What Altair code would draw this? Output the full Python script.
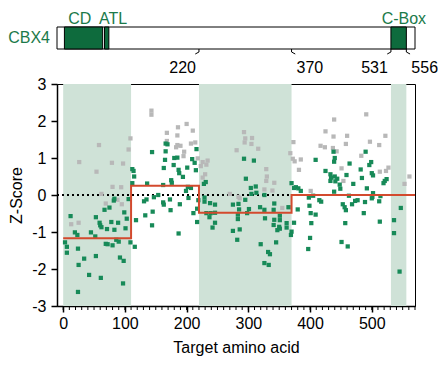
import altair as alt
import pandas as pd

# ---------------- data ----------------
green_x = [3, 6, 6, 12, 19, 23, 24, 25, 24, 34, 42, 45, 52, 53, 53, 59, 60, 62, 61, 67, 69, 72, 75, 78, 80,
           82, 83, 86, 90, 89, 92, 97, 98, 99, 101, 103, 106, 109, 116, 118, 71, 83,
           112, 114, 115, 112, 136, 131, 135, 133,
           144, 166, 169, 166, 180, 185, 165, 179, 209, 213, 163, 187, 188, 201, 215, 194, 175, 176, 216,
           202, 207, 162, 228, 231, 199, 147, 154, 173, 162, 163, 203, 219, 189, 174, 145, 229, 229, 238,
           246, 211, 217, 232, 239, 237, 246, 217, 144, 246, 242, 187, 275, 282, 275,
           293, 309, 296, 304, 312, 305, 313, 326, 295, 370, 377, 381, 374, 385, 398, 405, 415, 418, 284,
           285, 283, 283, 301, 319, 326, 342, 341, 298, 327, 342, 351, 351, 365, 341, 350, 347, 351, 362,
           362, 370, 369, 374, 380, 399, 401, 409, 402, 286, 400, 397, 345, 320, 332, 335, 326, 333, 409, 425,
           438, 440, 439, 490, 464, 499, 496, 482, 433, 434, 433, 440, 444, 441, 459, 448, 449, 484, 500,
           502, 470, 492, 519, 521, 524, 439, 502, 463, 500, 501, 477, 514, 473, 468, 489, 512, 453, 456,
           458, 487, 547, 457, 513, 536, 536, 451, 461, 545]
green_y = [-1.28, -1.40, -1.56, -0.57, -1.01, -1.08, -1.45, -1.89, -2.62, -1.72, -2.16, -1.01, -1.12, -0.60,
           -1.65, -0.75, -0.82, -0.87, -2.24, -0.40, -1.32, -1.33, -0.34, -0.73, -1.36, -0.15, -0.10, -1.21,
           -1.26, -0.75, -1.69, -2.39, -1.78, -0.47, -0.90, -0.64, -0.11, -1.28, -1.40, -0.68, -0.92, -0.94,
           0.70, 0.65, 0.50, 0.32, 0.31, -0.17, -0.12, -0.55,
           1.16, 1.39, 1.37, 1.18, 1.00, 1.01, 0.95, 0.81, 0.97, 0.87, 0.73, 0.68, 0.59, 0.74, 0.67, 0.49,
           0.40, 0.33, 1.24, 0.22, 0.19, 0.27, 0.30, 0.35, 0.11, -0.06, 0.00, -0.12, -0.20, -0.26, -0.08,
           -0.14, -0.25, -0.41, -0.45, -0.07, -0.18, -0.22, -0.26, -0.49, -0.37, -0.49, -0.49, -0.60, -0.48,
           -0.73, -0.82, -0.75, -0.88, -1.04, -0.97, -1.21, -0.26,
           0.98, 0.93, 0.44, 0.19, 0.23, 0.03, 0.06, 0.00, -0.13, 0.32, 0.21, 0.18, 0.19, 0.11, -0.07, -0.02,
           -0.14, -0.18, -0.24, -0.39, -0.53, -0.65, -0.38, -0.33, -0.40, -0.23, -0.40, -0.49, -0.63, -0.67,
           -0.56, -0.68, -0.33, -0.81, -0.86, -0.95, -0.91, -0.76, -0.88, -0.99, -1.08, -0.75, -0.39, -0.29,
           -0.49, -0.53, -0.76, -0.93, -1.16, -1.46, -1.28, -1.33, -1.54, -1.60, -1.84, -1.89, 0.95, 0.65,
           1.17, 1.00, 0.90, 1.17, 0.85, 0.89, 0.81, 0.69, 0.56, 0.47, 0.38, 0.50, 0.44, 0.37, 0.54, 0.28,
           0.17, 0.46, 0.59, 0.53, 0.30, 0.18, 0.32, 0.38, 0.43, 0.09, 0.05, -0.02, -0.09, -0.05, -0.14,
           -0.03, -0.16, -0.25, -0.19, -0.17, -0.25, -0.33, -0.41, -0.49, -0.35, -0.76, -0.72, -0.68, -1.03,
           -1.27, -1.39, -2.07]

gray_x = [58, 109, 106, 26, 79, 97, 54, 80, 94, 62, 69, 88, 95, 13, 25,
          143, 143, 200, 186, 168, 210, 185, 168, 207, 214, 185, 190, 183, 196, 195, 218, 226, 234, 232,
          223, 281, 230, 226, 270,
          293, 295, 294, 306, 305, 316, 373, 368, 372, 375, 385, 382, 329, 330, 329, 342, 326, 339, 284,
          286, 355, 366, 401, 425, 417, 424,
          491, 439, 438, 460, 522, 458, 497, 512, 437, 443, 483, 451, 454, 513, 523, 527, 561, 553]
gray_y = [1.35, 1.53, 1.23, 0.89, 0.87, 0.85, 0.63, 0.22, 0.21, 0.03, -0.23, -0.13, -0.25, -0.79, -0.75,
          2.28, 2.17, 1.92, 1.83, 1.68, 1.74, 1.61, 1.46, 1.39, 1.42, 1.35, 1.33, 1.29, 1.17, 1.05, 0.99,
          0.89, 0.93, 0.82, 0.78, 1.21, 0.56, 0.47, 0.03,
          1.70, 1.53, 1.42, 1.54, 1.38, 1.25, 1.43, 1.13, 0.98, 0.91, 0.96, 0.68, 0.70, 0.50, 0.38, 0.33,
          0.15, 0.12, -0.05, -0.09, -0.35, -0.33, 0.11, 1.72, 1.33, 1.29,
          2.18, 2.04, 1.58, 1.60, 1.60, 1.38, 1.44, 1.35, 1.27, 1.18, 1.06, 0.72, 0.38, 0.63, 0.65, 0.74,
          0.50, 0.30]

shade_start = [0, 220, 531]
shade_end = [110, 370, 556]

step_x = [0, 110, 220, 370, 570]
step_y = [-1.17, 0.25, -0.48, 0.0, 0.0]

domain_start = [2, 67, 531]
domain_end = [64, 74, 556]
domain_label = ["CD", "ATL", "C-Box"]
domain_label_x = [27, 81, 552]

bound_pos = [220, 370, 531, 556]
bound_dir = [-1, 1, -1, 1]

x_ticks = [0, 100, 200, 300, 400, 500]
y_ticks = [-3, -2, -1, 0, 1, 2, 3]
minor_ticks = list(range(0, 571, 10))

# ---------------- style ----------------
W, H = 358, 222
FONT = "Liberation Sans"
GREEN = "#178a58"
GRAY = "#b8b8b8"
SHADE = "#cfe2d7"
RED = "#d34a2e"
DARK = "#0e6b3d"
TEXTGREEN = "#1b7a4a"

xscale = alt.Scale(domain=[-10, 570], nice=False, zero=False)
yscale = alt.Scale(domain=[-3, 3], nice=False, zero=False)
xaxis = alt.Axis(values=x_ticks, title="Target amino acid", tickSize=6, labelPadding=3,
                 titlePadding=8, grid=False)
yaxis = alt.Axis(values=y_ticks, title="Z-Score", tickSize=6, labelPadding=5, titlePadding=7,
                 grid=False, labelExpr="'' + datum.value")


def X(f):
    return alt.X(f, type="quantitative", scale=xscale, axis=xaxis)


def Y(f):
    return alt.Y(f, type="quantitative", scale=yscale, axis=yaxis)


shade_df = pd.DataFrame({"s": shade_start, "e": shade_end})
shade = alt.Chart(shade_df).mark_rect(color=SHADE).encode(
    x=X("s"), x2="e", y=alt.value(0), y2=alt.value(H))

minor = alt.Chart(pd.DataFrame({"t": minor_ticks})).mark_rule(color="black", strokeWidth=1).encode(
    x=X("t"), y=alt.value(H), y2=alt.value(H + 4))

zero = alt.Chart(pd.DataFrame({"z": [0]})).mark_rule(
    color="black", strokeWidth=2, strokeDash=[2, 3]).encode(
    y=Y("z"), x=alt.value(0), x2=alt.value(W))

gray = alt.Chart(pd.DataFrame({"x": gray_x, "y": gray_y})).mark_square(
    color=GRAY, size=18, opacity=1).encode(x=X("x"), y=Y("y"))
green = alt.Chart(pd.DataFrame({"x": green_x, "y": green_y})).mark_square(
    color=GREEN, size=18, opacity=1).encode(x=X("x"), y=Y("y"))

step = alt.Chart(pd.DataFrame({"x": step_x, "y": step_y})).mark_line(
    color=RED, strokeWidth=2, interpolate="step-after").encode(x=X("x"), y=Y("y"))

# ---- protein diagram above the plot ----
BAR_TOP, BAR_BOT = -57, -35
bar = alt.Chart(pd.DataFrame({"k": [0]})).mark_rect(
    fill="white", stroke="black", strokeWidth=1).encode(
    x=alt.value(0), x2=alt.value(W), y=alt.value(BAR_TOP), y2=alt.value(BAR_BOT))

dom_df = pd.DataFrame({"s": domain_start, "e": domain_end})
doms = alt.Chart(dom_df).mark_rect(fill=DARK, stroke="black", strokeWidth=1).encode(
    x=X("s"), x2="e", y=alt.value(BAR_TOP), y2=alt.value(BAR_BOT))

dl_df = pd.DataFrame({"lx": domain_label_x, "name": domain_label})
dlabels = alt.Chart(dl_df).mark_text(
    color=TEXTGREEN, font=FONT, fontSize=16, align="center", baseline="alphabetic").encode(
    x=X("lx"), y=alt.value(BAR_TOP - 3.5), text="name:N")

name = alt.Chart(pd.DataFrame({"n": ["CBX4"]})).mark_text(
    color=TEXTGREEN, font=FONT, fontSize=16, align="right", baseline="middle").encode(
    x=alt.value(-7), y=alt.value((BAR_TOP + BAR_BOT) / 2), text="n:N")

b_df = pd.DataFrame({"p": bound_pos, "d": bound_dir})
b_df["h"] = b_df["p"] + 6 * b_df["d"]
b_df["lab"] = b_df["p"].astype(str)
hook_v = alt.Chart(b_df).mark_rule(color="black", strokeWidth=1).encode(
    x=X("p"), y=alt.value(BAR_BOT), y2=alt.value(BAR_BOT + 3))
hook_d = alt.Chart(b_df).mark_rule(color="black", strokeWidth=1).encode(
    x=X("p"), x2="h", y=alt.value(BAR_BOT + 3), y2=alt.value(BAR_BOT + 5))
blab_l = alt.Chart(b_df).transform_filter("datum.d < 0").mark_text(
    font=FONT, fontSize=16, color="black", align="right", baseline="middle", dx=-3).encode(
    x=X("p"), y=alt.value(-16), text="lab:N")
blab_r = alt.Chart(b_df).transform_filter("datum.d > 0").mark_text(
    font=FONT, fontSize=16, color="black", align="left", baseline="middle", dx=5).encode(
    x=X("p"), y=alt.value(-16), text="lab:N")

chart = alt.layer(
    shade, minor, zero, gray, green, step,
    bar, doms, dlabels, name, hook_v, hook_d, blab_l, blab_r
).properties(
    width=W, height=H,
    autosize=alt.AutoSizeParams(type="none"),
    padding={"left": 49, "top": 76, "right": 23, "bottom": 52},
).configure_view(
    stroke="black", strokeWidth=1
).configure_axis(
    labelFont=FONT, titleFont=FONT, labelFontSize=16, titleFontSize=16,
    titleFontWeight="normal", labelColor="black", titleColor="black",
    domainColor="black", tickColor="black", domainWidth=1.5, tickWidth=1.5,
)

chart.save("out.html", embed_options={"renderer": "svg", "actions": False})
